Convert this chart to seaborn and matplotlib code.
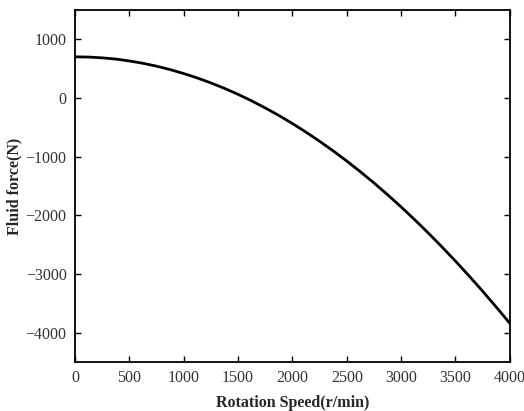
import matplotlib

matplotlib.use("Agg")
import matplotlib.pyplot as plt
import pandas as pd
import seaborn as sns

# values
speed = [0, 125, 250, 375, 500, 625, 750, 875, 1000, 1125, 1250, 1375, 1500, 1625, 1750, 1875,
         2000, 2125, 2250, 2375, 2500, 2625, 2750, 2875, 3000, 3125, 3250, 3375, 3500, 3625,
         3750, 3875, 4000]
force = [700, 696, 683, 662, 630, 590, 541, 483, 416, 340, 256, 163, 61, -50, -170, -298,
         -436, -583, -738, -902, -1075, -1257, -1448, -1648, -1857, -2075, -2302, -2537,
         -2780, -3032, -3293, -3563, -3840]

x_ticks = [0, 500, 1000, 1500, 2000, 2500, 3000, 3500, 4000]
y_ticks = [-4000, -3000, -2000, -1000, 0, 1000]

sns.set_theme(style="ticks")
plt.rcParams["font.family"] = ["Liberation Serif", "DejaVu Serif"]

frame = pd.DataFrame({"speed": speed, "force": force})

fig = plt.figure(figsize=(5.24, 4.11), dpi=100)
ax = fig.add_axes([0.143, 0.119, 0.830, 0.857])
sns.lineplot(data=frame, x="speed", y="force", ax=ax, color="black", linewidth=2.0)

ax.set_xlim(0, 4000)
ax.set_ylim(-4500, 1500)
ax.set_xticks(x_ticks)
ax.set_yticks(y_ticks)
ax.set_xticklabels([str(v) for v in x_ticks])
ax.set_yticklabels([str(v).replace("-", "\u2212") for v in y_ticks])
ax.tick_params(direction="in", length=4.5, width=1.0, top=True, right=True, labelsize=11.5,
               labelcolor="#333333", color="black", pad=6)
for spine in ax.spines.values():
    spine.set_linewidth(1.3)
    spine.set_color("black")

ax.set_xlabel("Rotation Speed(r/min)", fontsize=11.5, fontweight="bold", labelpad=6)
ax.set_ylabel("Fluid force(N)", fontsize=11.5, fontweight="bold", labelpad=2)

fig.savefig("out.png", dpi=100)
